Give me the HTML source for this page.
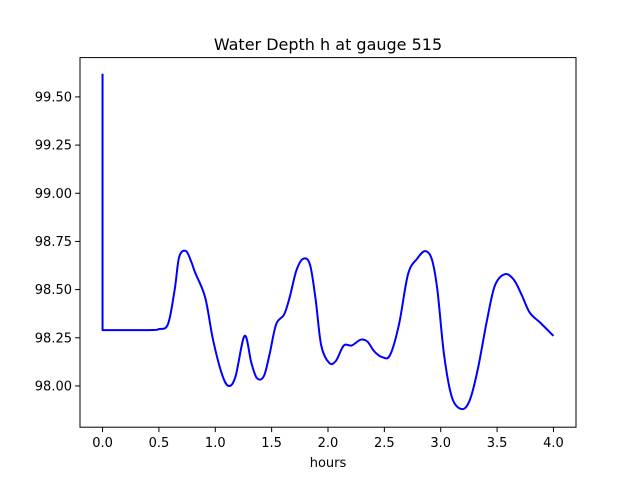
<!DOCTYPE html>
<html><head><meta charset="utf-8"><style>
body{margin:0;background:#fff;}
svg text{font-family:"DejaVu Sans","Liberation Sans",sans-serif;}
</style></head><body>
<svg width="640" height="480" xmlns="http://www.w3.org/2000/svg">
<rect width="640" height="480" fill="#fff"/>
<g id="plot"></g>
</svg>
<script>
const hours=[0,0,0.417,0.5,0.58,0.64,0.68,0.74,0.79,0.82,0.91,0.98,1.06,1.12,1.18,1.26,1.32,1.37,1.43,1.48,1.54,1.61,1.66,1.72,1.78,1.84,1.89,1.94,2.01,2.07,2.14,2.21,2.29,2.35,2.41,2.48,2.55,2.63,2.71,2.79,2.86,2.92,2.97,3.03,3.10,3.19,3.26,3.33,3.41,3.48,3.57,3.65,3.72,3.79,3.88,4.0];
const depth=[99.62,98.29,98.29,98.295,98.32,98.50,98.67,98.70,98.64,98.59,98.46,98.24,98.06,98.00,98.05,98.26,98.12,98.04,98.05,98.16,98.32,98.37,98.46,98.60,98.66,98.63,98.45,98.21,98.12,98.13,98.21,98.21,98.24,98.23,98.18,98.15,98.16,98.32,98.58,98.66,98.70,98.66,98.50,98.16,97.94,97.88,97.93,98.09,98.34,98.52,98.58,98.55,98.47,98.38,98.33,98.26];
const xTicks=[0,0.5,1,1.5,2,2.5,3,3.5,4];
const xTickLabels=["0.0","0.5","1.0","1.5","2.0","2.5","3.0","3.5","4.0"];
const yTicks=[98,98.25,98.5,98.75,99,99.25,99.5];
const yTickLabels=["98.00","98.25","98.50","98.75","99.00","99.25","99.50"];
const L=80,R=576,T=57.6,B=427.2;
const xMin=-0.2,xMax=4.2,yMin=97.786,yMax=99.704;
const sx=v=>L+(v-xMin)/(xMax-xMin)*(R-L);
const sy=v=>B-(v-yMin)/(yMax-yMin)*(B-T);
const NS="http://www.w3.org/2000/svg";
const g=document.getElementById('plot');
function mk(tag,attrs,parent){const e=document.createElementNS(NS,tag);for(const k in attrs)e.setAttribute(k,attrs[k]);(parent||g).appendChild(e);return e;}
const pts=hours.map((h,i)=>[sx(h),sy(depth[i])]);
let d="M"+pts[0][0]+","+pts[0][1]+" L"+pts[1][0]+","+pts[1][1];
for(let i=1;i<pts.length-1;i++){
  const p0=pts[Math.max(i-1,1)],p1=pts[i],p2=pts[i+1],p3=pts[Math.min(i+2,pts.length-1)];
  const c1=[p1[0]+(p2[0]-p0[0])/6,p1[1]+(p2[1]-p0[1])/6];
  const c2=[p2[0]-(p3[0]-p1[0])/6,p2[1]-(p3[1]-p1[1])/6];
  d+=` C${c1[0]},${c1[1]} ${c2[0]},${c2[1]} ${p2[0]},${p2[1]}`;
}
const line=mk('path',{d:d,fill:'none',stroke:'#0000ff','stroke-width':2,'stroke-linejoin':'round'});


const frame=mk('rect',{x:L,y:T,width:R-L,height:B-T,fill:'none',stroke:'#000','stroke-width':1});


xTicks.forEach((v,i)=>{
  const x=sx(v);
  mk('line',{x1:x,x2:x,y1:B,y2:B+4.9,stroke:'#000','stroke-width':1});
  const t=mk('text',{x:x,y:B+20,'text-anchor':'middle','font-size':13});
  t.textContent=xTickLabels[i];
  
  
});
yTicks.forEach((v,i)=>{
  const y=sy(v);
  mk('line',{x1:L-4.9,x2:L,y1:y,y2:y,stroke:'#000','stroke-width':1});
  const t=mk('text',{x:L-8,y:y+4.5,'text-anchor':'end','font-size':13});
  t.textContent=yTickLabels[i];
  
  
});
const ti=mk('text',{x:(L+R)/2,y:50,'text-anchor':'middle','font-size':16});
ti.textContent="Water Depth h at gauge 515";


const xl=mk('text',{x:(L+R)/2,y:467,'text-anchor':'middle','font-size':13});
xl.textContent="hours";


</script>
</body></html>
